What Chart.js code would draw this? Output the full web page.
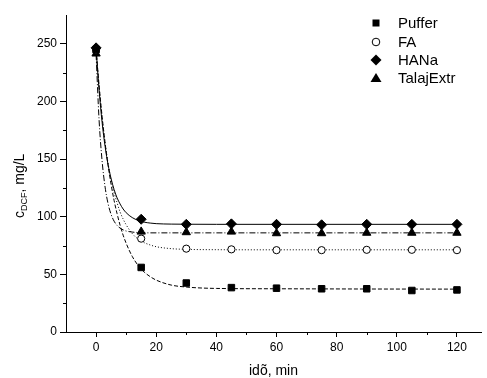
<!DOCTYPE html>
<html lang="hu">
<head>
    <meta charset="UTF-8">
    <title>DCF</title>
    <script src="https://cdn.jsdelivr.net/npm/chart.js"></script>
    <style>
        body { margin: 0; background: #fff; }
        #wrap { width: 487px; height: 378px; position: relative; }
    </style>
</head>
<body>
<div id="wrap"><canvas id="dcfChart"></canvas></div>

<script>
    // measured points
    const times = [0, 15, 30, 45, 60, 75, 90, 105, 120];
    const puffer = [245, 56, 42.5, 38.5, 38, 37.5, 37.5, 36, 36.5];
    const fa = [245, 81, 72.3, 71.7, 71, 71, 71.3, 71.3, 71];
    const hana = [246.5, 97.8, 93.4, 93.8, 93.4, 93, 93.4, 93.4, 93.4];
    const talaj = [241.5, 87, 86.5, 87, 85.6, 85.6, 86, 86, 86];

    // fitted curves
    const fitTimes = [0, 1, 2, 3, 4, 5, 6, 7, 8, 9, 10, 12, 14, 16, 18, 20, 25, 30, 40, 60, 90, 120];
    const pufferFit = [245, 214, 187, 164, 144.5, 128, 114, 102.5, 92.5, 84, 77, 65.7, 57.7, 52, 48, 45, 40.7, 39, 37.8, 37.5, 37.3, 37.2];
    const faFit = [245, 213, 186, 164, 146, 132, 121, 112, 104, 98, 93, 85.5, 80.5, 77.5, 75.5, 74, 72.3, 71.7, 71.4, 71.3, 71.3, 71.3];
    const hanaFit = [246, 210, 182, 161, 145, 133, 123.5, 116.3, 111, 106.7, 103.5, 99.3, 96.8, 95.3, 94.5, 94, 93.6, 93.5, 93.4, 93.4, 93.4, 93.4];
    const talajFit = [241, 184, 148.5, 125.7, 111.2, 102, 96.1, 92.4, 90.1, 88.6, 87.6, 86.7, 86.3, 86.1, 86, 86, 86, 86, 86, 86, 86, 86];

    const seriesNames = ['Puffer', 'FA', 'HANa', 'TalajExtr'];
    const xTitle = 'idõ, min';

    function pts(xs, ys) {
        return xs.map((x, i) => ({ x: x, y: ys[i] }));
    }

    function markerSet(label, data, style, fill, radius) {
        return {
            label: label,
            data: pts(times, data),
            showLine: false,
            pointStyle: style,
            pointRadius: radius,
            pointHoverRadius: radius,
            pointBackgroundColor: fill,
            pointBorderColor: '#000',
            pointBorderWidth: 1
        };
    }

    function curveSet(data, dash) {
        return {
            data: pts(fitTimes, data),
            showLine: true,
            pointRadius: 0,
            borderColor: '#000',
            borderWidth: 1,
            borderDash: dash,
            cubicInterpolationMode: 'monotone',
            fill: false
        };
    }

    // axis titles, minor ticks and the legend box
    const extras = {
        id: 'extras',
        afterDraw(chart) {
            const ctx = chart.ctx;
            const xs = chart.scales.x, ys = chart.scales.y;
            ctx.save();
            ctx.strokeStyle = '#000';
            ctx.lineWidth = 1;
            ctx.beginPath();
            for (let v = 10; v < 130; v += 20) {
                const px = Math.round(xs.getPixelForValue(v)) + 0.5;
                ctx.moveTo(px, ys.bottom);
                ctx.lineTo(px, ys.bottom + 3);
            }
            for (let v = 25; v < 275; v += 50) {
                const py = Math.round(ys.getPixelForValue(v)) + 0.5;
                ctx.moveTo(xs.left, py);
                ctx.lineTo(xs.left - 3, py);
            }
            ctx.stroke();

            ctx.fillStyle = '#000';
            ctx.font = '14px "Liberation Sans", Arial, sans-serif';
            ctx.textAlign = 'center';
            ctx.textBaseline = 'alphabetic';
            ctx.fillText(xTitle, (xs.left + xs.right) / 2, 375);

            // y title with subscript
            ctx.translate(24, 218);
            ctx.rotate(-Math.PI / 2);
            ctx.textAlign = 'left';
            let cx = 0;
            ctx.font = '14px "Liberation Sans", Arial, sans-serif';
            ctx.fillText('c', 0, 0);
            cx += ctx.measureText('c').width;
            ctx.font = '9px "Liberation Sans", Arial, sans-serif';
            ctx.fillText('DCF', cx, 3);
            cx += ctx.measureText('DCF').width;
            ctx.font = '14px "Liberation Sans", Arial, sans-serif';
            ctx.fillText(', mg/L', cx, 0);
            ctx.restore();

            // legend
            ctx.save();
            const lx = 376, ly = [23, 42, 60, 78];
            ctx.fillStyle = '#000';
            ctx.strokeStyle = '#000';
            ctx.lineWidth = 1;
            ctx.fillRect(lx - 3.5, ly[0] - 3.5, 7, 7);
            ctx.beginPath();
            ctx.arc(lx, ly[1], 3.8, 0, Math.PI * 2);
            ctx.stroke();
            ctx.beginPath();
            ctx.moveTo(lx, ly[2] - 5.5);
            ctx.lineTo(lx + 5.5, ly[2]);
            ctx.lineTo(lx, ly[2] + 5.5);
            ctx.lineTo(lx - 5.5, ly[2]);
            ctx.closePath();
            ctx.fill();
            ctx.beginPath();
            ctx.moveTo(lx, ly[3] - 5);
            ctx.lineTo(lx + 5.5, ly[3] + 4);
            ctx.lineTo(lx - 5.5, ly[3] + 4);
            ctx.closePath();
            ctx.fill();
            ctx.font = '15px "Liberation Sans", Arial, sans-serif';
            ctx.textAlign = 'left';
            ctx.textBaseline = 'middle';
            seriesNames.forEach((n, i) => ctx.fillText(n, 398, ly[i] + 1));
            ctx.restore();
        }
    };

    const ctx = document.getElementById('dcfChart').getContext('2d');
    new Chart(ctx, {
        type: 'scatter',
        data: {
            datasets: [
                markerSet(seriesNames[0], puffer, 'rect', '#000', 4.6),
                markerSet(seriesNames[1], fa, 'circle', '#fff', 3.6),
                markerSet(seriesNames[2], hana, 'rectRot', '#000', 5),
                markerSet(seriesNames[3], talaj, 'triangle', '#000', 4.8),
                curveSet(pufferFit, [4, 2]),
                curveSet(faFit, [1, 2]),
                curveSet(hanaFit, []),
                curveSet(talajFit, [6, 2, 1, 2])
            ]
        },
        options: {
            responsive: true,
            maintainAspectRatio: false,
            animation: false,
            devicePixelRatio: 1,
            layout: { padding: { left: 0, right: 0, top: 15, bottom: 0 } },
            plugins: {
                legend: { display: false },
                tooltip: { enabled: false }
            },
            scales: {
                x: {
                    type: 'linear',
                    min: -10,
                    max: 128,
                    afterFit: s => { s.height = 46; },
                    border: { color: '#000', width: 1 },
                    grid: { drawOnChartArea: false, tickLength: 5, tickColor: '#000' },
                    ticks: {
                        stepSize: 20,
                        includeBounds: false,
                        color: '#000',
                        padding: 3,
                        maxRotation: 0,
                        font: { family: '"Liberation Sans", Arial, sans-serif', size: 12 }
                    }
                },
                y: {
                    min: 0,
                    max: 275,
                    afterFit: s => { s.width = 66; },
                    border: { color: '#000', width: 1 },
                    grid: { drawOnChartArea: false, tickLength: 6, tickColor: '#000' },
                    ticks: {
                        stepSize: 50,
                        includeBounds: false,
                        color: '#000',
                        padding: 3,
                        font: { family: '"Liberation Sans", Arial, sans-serif', size: 12 }
                    }
                }
            }
        },
        plugins: [extras]
    });
</script>
</body>
</html>
